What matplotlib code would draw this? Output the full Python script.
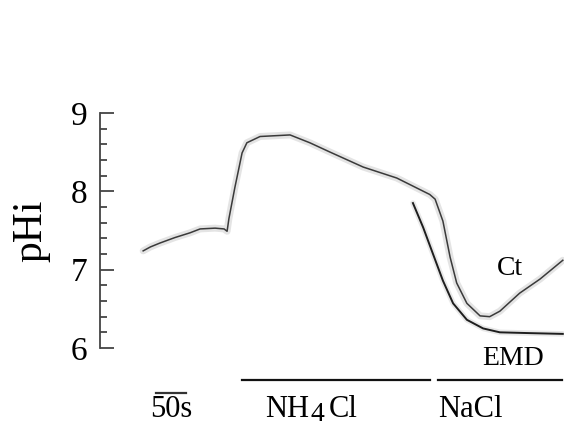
import numpy as np
import matplotlib
matplotlib.use("Agg")
import matplotlib.pyplot as plt

plt.rcParams['font.family'] = ['Liberation Serif', 'DejaVu Serif']

# time (s) and pHi
ct_t = [0, 12, 28, 53, 78, 95, 120, 135, 140, 143, 153, 165, 173, 195, 245,
        278, 312, 367, 423, 478, 487, 500, 512, 523, 540, 562, 578, 595, 628,
        662, 700]
ct_ph = [7.24, 7.29, 7.34, 7.41, 7.47, 7.52, 7.53, 7.52, 7.49, 7.65, 8.05,
         8.49, 8.62, 8.70, 8.72, 8.62, 8.50, 8.31, 8.17, 7.96, 7.90, 7.62,
         7.16, 6.83, 6.57, 6.41, 6.40, 6.47, 6.70, 6.88, 7.12]

emd_t = [450, 467, 483, 500, 517, 540, 567, 595, 645, 700]
emd_ph = [7.85, 7.54, 7.21, 6.86, 6.57, 6.36, 6.25, 6.20, 6.19, 6.18]

yticks = [6, 7, 8, 9]
scale_bar = (22, 72)
nh4cl_bar = (165, 478)
nacl_bar = (492, 698)

fig = plt.figure(figsize=(5.64, 4.26), dpi=100)
ax = fig.add_axes([100 / 564, 78 / 426, 464 / 564, 235 / 426])

# halo then trace
ax.plot(ct_t, ct_ph, color='#e4e4e4', lw=5, solid_capstyle='round', zorder=1)
ax.plot(emd_t, emd_ph, color='#e8e8e8', lw=4, solid_capstyle='round', zorder=1)
ax.plot(ct_t, ct_ph, color='#3a3a3a', lw=1.1, zorder=3)
ax.plot(emd_t, emd_ph, color='#1e1e1e', lw=1.4, zorder=3)

ax.set_xlim(-72, 702)
ax.set_ylim(6, 9)
for s in ['top', 'right', 'bottom']:
    ax.spines[s].set_visible(False)
ax.spines['left'].set_color('#444444')
ax.spines['left'].set_linewidth(1.3)
ax.set_xticks([])
ax.set_yticks(yticks)
ax.set_yticks(np.arange(6, 9.01, 0.2), minor=True)
ax.tick_params(axis='y', which='major', direction='in', length=10, width=1.3,
               color='#444444', labelsize=24, pad=9)
ax.tick_params(axis='y', which='minor', direction='in', length=5, width=1.3,
               color='#444444')
ax.patch.set_visible(False)

fig.text(31 / 564, 1 - 231 / 426, 'pHi', rotation=90, fontsize=30,
         ha='center', va='center')

ax.text(590, 6.93, 'Ct', fontsize=20, ha='left', va='baseline')
ax.text(565, 5.78, 'EMD', fontsize=20, ha='left', va='baseline', clip_on=False)

ax.plot(nh4cl_bar, [5.59, 5.59], color='#111111', lw=1.6, clip_on=False)
ax.plot(nacl_bar, [5.59, 5.59], color='#111111', lw=1.6, clip_on=False)
ax.plot(scale_bar, [5.43, 5.43], color='#333333', lw=1.6, clip_on=False)

lab_y = 5.12
ax.text(11, lab_y, '50s', fontsize=22, ha='left', va='baseline', clip_on=False)
nh = ax.text(203, lab_y, 'NH', fontsize=22, ha='left', va='baseline', clip_on=False)
four = ax.annotate('4', xy=(1, 0), xycoords=nh, xytext=(2, -3),
                   textcoords='offset pixels', fontsize=20, ha='left', va='bottom',
                   annotation_clip=False)
ax.annotate('Cl', xy=(1, 0), xycoords=four, xytext=(4, 3),
            textcoords='offset pixels', fontsize=22, ha='left', va='bottom',
            annotation_clip=False)
ax.text(492, lab_y, 'NaCl', fontsize=22, ha='left', va='baseline', clip_on=False)

fig.savefig('out.png', dpi=100)
